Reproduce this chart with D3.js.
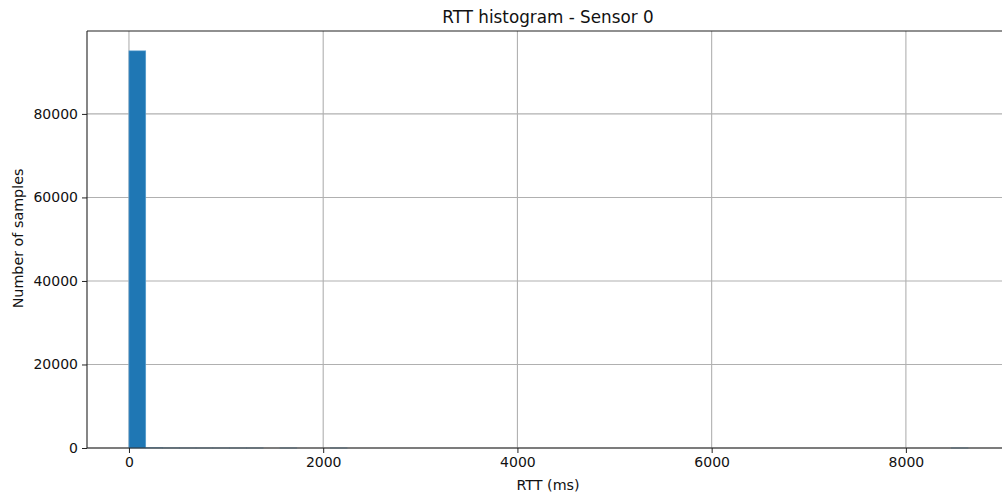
<!DOCTYPE html>
<html>
<head>
<meta charset="utf-8">
<script src="https://cdn.jsdelivr.net/npm/d3@7"></script>
<style>
  body { margin: 0; background: #fff; }
  text { font-family: "DejaVu Sans", sans-serif; }
</style>
</head>
<body>
<svg id="chart" width="1002" height="495"></svg>
<script>
// histogram of RTT, 50 bins between min and max
let rttMin = 0;
let rttMax = 8640;
let binCount = 50;
let counts = [95100, 40, 12, 6, 3, 2, 1, 1, 0, 1,
              0, 0, 1, 0, 0, 0, 0, 0, 0, 0,
              0, 0, 0, 0, 0, 0, 0, 0, 0, 0,
              0, 0, 0, 0, 0, 0, 0, 0, 0, 0,
              0, 0, 0, 0, 0, 0, 0, 0, 0, 1];
let xTicks = [0, 2000, 4000, 6000, 8000];
let yTicks = [0, 20000, 40000, 60000, 80000];

let plotLeft = 87, plotTop = 31, plotRight = 1010, plotBottom = 448;
let svg = d3.select("#chart");

let span = rttMax - rttMin;
let x = d3.scaleLinear()
    .domain([rttMin - span * 0.05, rttMax + span * 0.05])
    .range([plotLeft, plotRight]);
let y = d3.scaleLinear()
    .domain([0, d3.max(counts) * 1.05])
    .range([plotBottom, plotTop]);

let binW = span / binCount;
let bins = counts.map(function(c, i) { return {x0: rttMin + i * binW, x1: rttMin + (i + 1) * binW, n: c}; });

// grid
svg.append("g").selectAll("line")
    .data(xTicks).enter().append("line")
    .attr("x1", d => x(d)).attr("x2", d => x(d))
    .attr("y1", plotTop).attr("y2", plotBottom)
    .style("stroke", "#b0b0b0").style("stroke-width", 1.1);
svg.append("g").selectAll("line")
    .data(yTicks).enter().append("line")
    .attr("x1", plotLeft).attr("x2", plotRight)
    .attr("y1", d => y(d)).attr("y2", d => y(d))
    .style("stroke", "#b0b0b0").style("stroke-width", 1.1);

// bars
svg.append("g").selectAll("rect")
    .data(bins).enter().append("rect")
    .attr("x", d => x(d.x0))
    .attr("y", d => y(d.n))
    .attr("width", d => x(d.x1) - x(d.x0))
    .attr("height", d => plotBottom - y(d.n))
    .style("fill", "#1f77b4")
    .style("stroke", "#5a9fd0")
    .style("stroke-width", 0.6);

// axes
let xAxis = d3.axisBottom(x).tickValues(xTicks).tickSize(5).tickPadding(4).tickFormat(d3.format("d"));
let yAxis = d3.axisLeft(y).tickValues(yTicks).tickSize(5).tickPadding(4).tickFormat(d3.format("d"));

let gx = svg.append("g").attr("transform", "translate(0," + plotBottom + ")").call(xAxis);
let gy = svg.append("g").attr("transform", "translate(" + plotLeft + ",0)").call(yAxis);
[gx, gy].forEach(function(g) {
    g.select(".domain").remove();
    g.selectAll("line").style("stroke", "#222");
    g.selectAll("text").style("font-size", "14px").style("fill", "#111").style("font-family", "DejaVu Sans");
});

// spines (right spine falls off the picture)
[[plotLeft, plotBottom, plotRight, plotBottom],
 [plotLeft, plotTop, plotLeft, plotBottom],
 [plotLeft, plotTop, plotRight, plotTop],
 [plotRight, plotTop, plotRight, plotBottom]].forEach(function(s) {
    svg.append("line").attr("x1", s[0]).attr("y1", s[1]).attr("x2", s[2]).attr("y2", s[3])
        .style("stroke", "#222").style("stroke-width", 1.1);
});

// labels
svg.append("text")
    .attr("x", 548).attr("y", 23)
    .attr("text-anchor", "middle")
    .style("font-size", "16.8px").style("fill", "#111")
    .text("RTT histogram - Sensor 0");
svg.append("text")
    .attr("x", 548).attr("y", 490)
    .attr("text-anchor", "middle")
    .style("font-size", "14.3px").style("fill", "#111")
    .text("RTT (ms)");
svg.append("text")
    .attr("transform", "translate(23," + ((plotTop + plotBottom) / 2 - 1) + ") rotate(-90)")
    .attr("text-anchor", "middle")
    .style("font-size", "14.3px").style("fill", "#111")
    .text("Number of samples");
</script>
</body>
</html>
